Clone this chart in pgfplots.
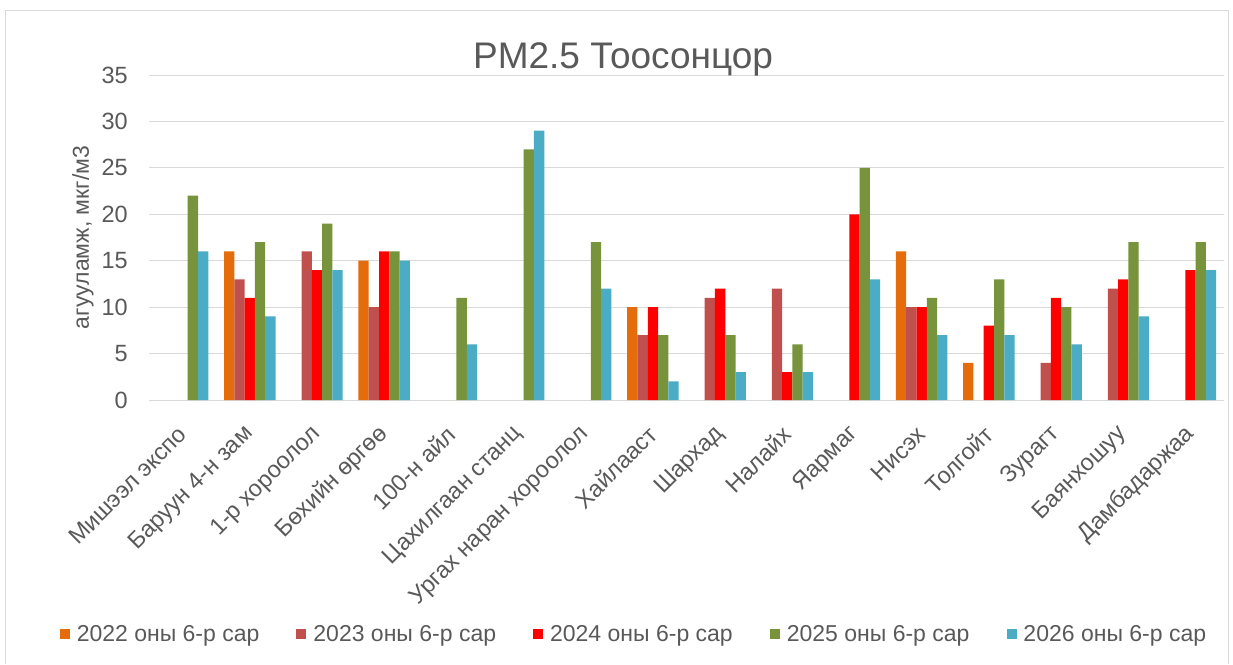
\documentclass[border=0pt]{standalone}
\usepackage{fontspec}
\setmainfont{Liberation Sans}
\usepackage{pgfplots}
\pgfplotsset{compat=1.18}
\definecolor{c22}{HTML}{E46C0A}
\definecolor{c23}{HTML}{C0504D}
\definecolor{c24}{HTML}{FF0000}
\definecolor{c25}{HTML}{77933C}
\definecolor{c26}{HTML}{4BACC6}
\definecolor{txt}{HTML}{595959}
\definecolor{gridc}{HTML}{D9D9D9}

\begin{document}
\begin{tikzpicture}
\path[use as bounding box] (0pt,0pt) rectangle (1233pt,664pt);
% chart frame
\draw[gridc, line width=1pt] (5pt,0pt) -- (5pt,653pt) -- (1228pt,653pt) -- (1228pt,0pt);
\begin{axis}[
    at={(149pt,264pt)}, anchor=south west,
    scale only axis, width=1075pt, height=325pt,
    ybar=0pt, bar width=10.3pt,
    xmin=-0.5, xmax=15.5, ymin=0, ymax=35,
    xtick={0,...,15},
    xticklabels={Мишээл экспо, Баруун 4-н зам, 1-р хороолол, Бөхийн өргөө,
        100-н айл, Цахилгаан станц, Ургах наран хороолол, Хайлааст, Шархад,
        Налайх, Яармаг, Нисэх, Толгойт, Зурагт, Баянхошуу, Дамбадаржаа},
    ytick={0,5,...,35},
    ymajorgrids, major grid style={gridc, line width=1pt},
    axis x line*=bottom, axis y line*=left,
    x axis line style={gridc, line width=1pt},
    y axis line style={draw=none},
    tick style={draw=none},
    /pgf/number format/assume math mode=true,
    ticklabel style={font=\fontsize{23.5}{27}\selectfont, text=txt},
    yticklabel style={anchor=east, inner sep=0pt, xshift=-21pt},
    xticklabel style={yshift=-26pt, rotate=45, anchor=east, inner sep=0pt},
    ylabel={агууламж, мкг/м3},
    ylabel style={at={(axis description cs:-0.0614,0.5)}, anchor=center,
        font=\fontsize{23}{27}\selectfont, text=txt},
    title={PM2.5 Тоосонцор},
    title style={at={(axis description cs:0.441,1)}, anchor=center, yshift=10pt,
        font=\fontsize{37}{41}\selectfont, text=txt},
    legend columns=5,
    legend style={at={(axis description cs:0.4516,-0.72)}, anchor=center,
        draw=none, fill=none, font=\fontsize{23}{27}\selectfont, text=txt,
        /tikz/every odd column/.append style={column sep=4pt},
        /tikz/every even column/.append style={column sep=34pt},
        nodes={inner xsep=3pt}},
    legend image code/.code={\fill[#1] (0pt,-5pt) rectangle (10pt,5pt);},
]
\addplot[fill=c22, draw=none] coordinates {(1,16) (3,15) (7,10) (11,16) (12,4)};
\addplot[fill=c23, draw=none] coordinates {(1,13) (2,16) (3,10) (7,7) (8,11) (9,12) (11,10) (13,4) (14,12)};
\addplot[fill=c24, draw=none] coordinates {(1,11) (2,14) (3,16) (7,10) (8,12) (9,3) (10,20) (11,10) (12,8) (13,11) (14,13) (15,14)};
\addplot[fill=c25, draw=none] coordinates {(0,22) (1,17) (2,19) (3,16) (4,11) (5,27) (6,17) (7,7) (8,7) (9,6) (10,25) (11,11) (12,13) (13,10) (14,17) (15,17)};
\addplot[fill=c26, draw=none] coordinates {(0,16) (1,9) (2,14) (3,15) (4,6) (5,29) (6,12) (7,2) (8,3) (9,3) (10,13) (11,7) (12,7) (13,6) (14,9) (15,14)};
\legend{2022 оны 6-р сар, 2023 оны 6-р сар, 2024 оны 6-р сар, 2025 оны 6-р сар, 2026 оны 6-р сар}
\end{axis}
\end{tikzpicture}
\end{document}
